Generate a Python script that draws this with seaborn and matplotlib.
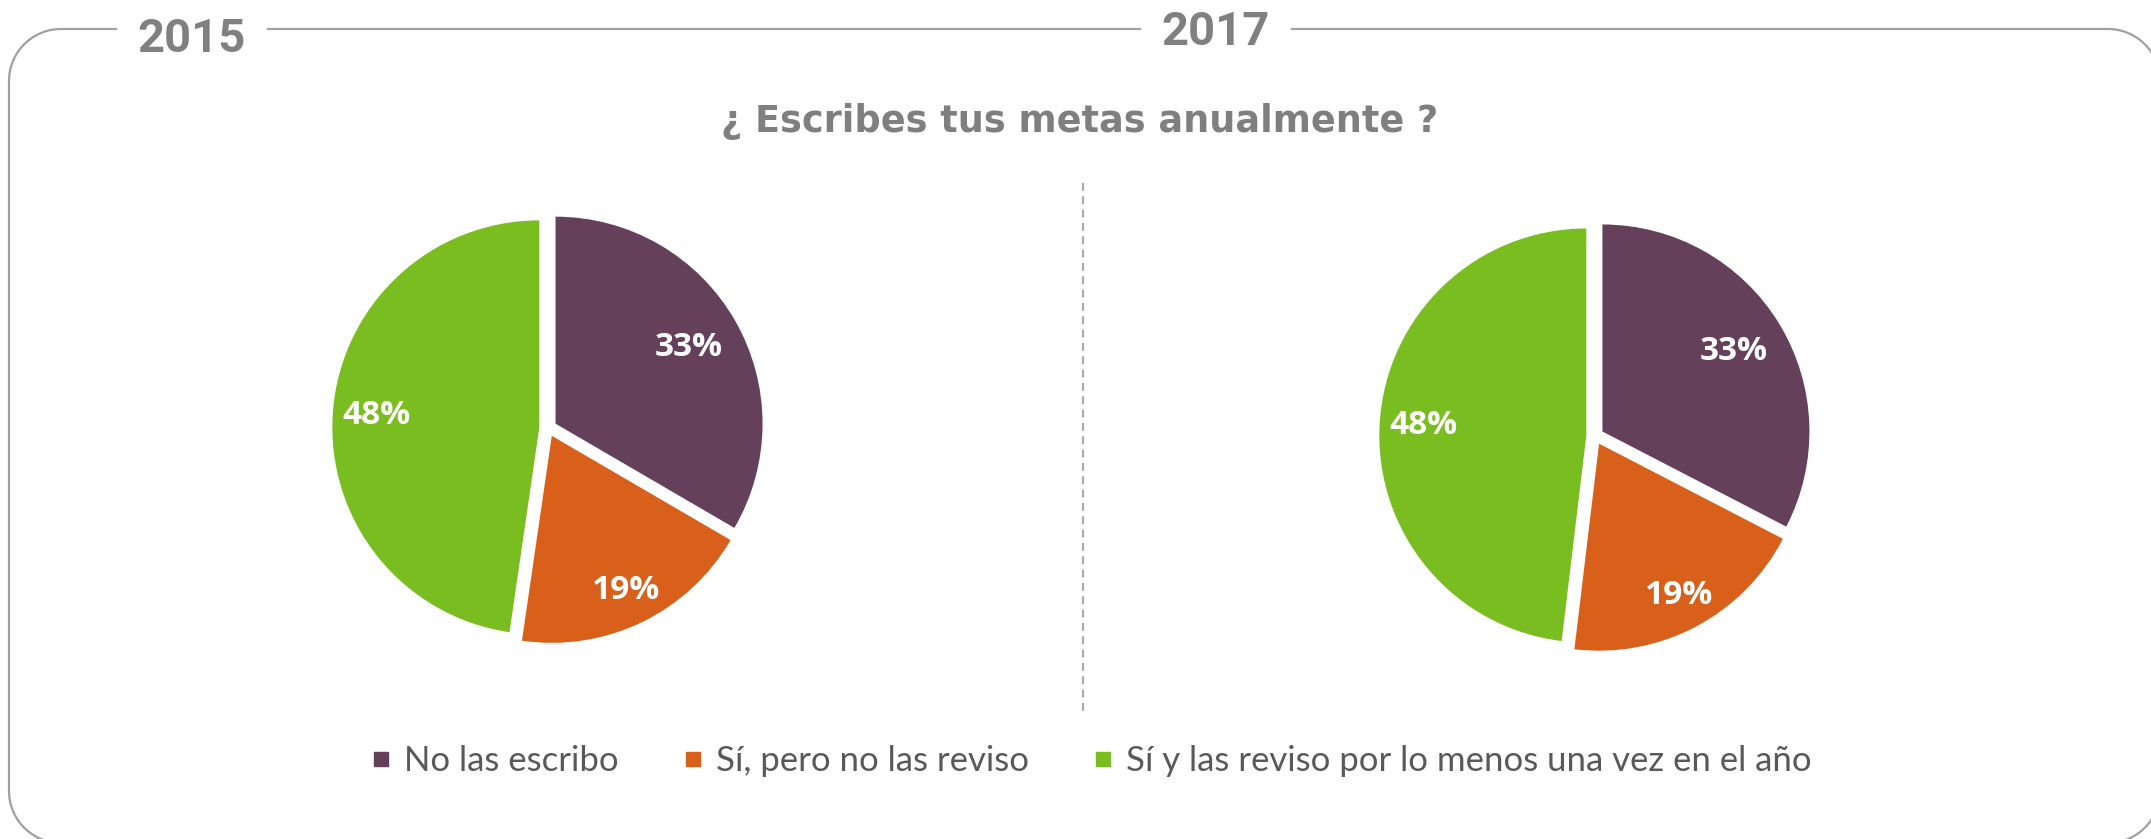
import matplotlib
matplotlib.use("Agg")
import matplotlib.pyplot as plt
from matplotlib.lines import Line2D
import numpy as np
import seaborn as sns

# data
categorias = ["No las escribo", "Sí, pero no las reviso",
              "Sí y las reviso por lo menos una vez en el año"]
valores_2015 = [33.4, 18.9, 47.7]
valores_2017 = [32.6, 19.3, 48.1]
anios = ["2015", "2017"]
titulo = "¿ Escribes tus metas anualmente ?"
colores = ["#65405A", "#D9601A", "#7ABD21"]

sns.set_theme(style="white")
plt.rcParams["font.family"] = ["DejaVu Sans"]

W, H = 2151, 839
fig = plt.figure(figsize=(W / 100, H / 100), dpi=100)
fig.patch.set_facecolor("white")

# background axes in pixel units (y measured from top)
bg = fig.add_axes([0, 0, 1, 1])
bg.set_xlim(0, W)
bg.set_ylim(H, 0)
bg.axis("off")

# rounded frame: corners top-left, top-right, bottom-right, bottom-left
x0, x1, y0, y1, rr = 9, 2160, 29, 843, 52
t = np.linspace(0, np.pi / 2, 30)
tl = (x0 + rr - rr * np.cos(t), y0 + rr - rr * np.sin(t))
tr = (x1 - rr + rr * np.sin(t), y0 + rr - rr * np.cos(t))
br = (x1 - rr + rr * np.cos(t), y1 - rr + rr * np.sin(t))
bl = (x0 + rr - rr * np.sin(t), y1 - rr + rr * np.cos(t))
fx = np.concatenate([tl[0], tr[0], br[0], bl[0], tl[0][:1]])
fy = np.concatenate([tl[1], tr[1], br[1], bl[1], tl[1][:1]])
bg.plot(fx, fy, color="#a0a0a0", lw=1.6, zorder=1, solid_joinstyle="round")

year_font = dict(family="Roboto", weight="bold", size=34, color="#808080",
                 ha="center", va="baseline", zorder=3,
                 bbox=dict(boxstyle="square,pad=0.45", fc="white", ec="none"))
bg.text(192, 52, anios[0], **year_font)
bg.text(1216, 45, anios[1], **year_font)

bg.text(1080, 121, titulo, ha="center", va="center", fontsize=26.4,
        weight="bold", color="#7f7f7f", family="DejaVu Sans")

# dashed separator
bg.plot([1083, 1083], [183, 713], color="#a6a6a6", lw=1.5,
        ls=(0, (3.8, 2.6)), zorder=1)

R_PX = 207
LIM = 1.25
EXPLODE = 0.042
label_dist = [0.74, 0.83, 0.79]


def pie_axes(cx, cy):
    side = 2 * LIM * R_PX
    ax = fig.add_axes([(cx - side / 2) / W, 1 - (cy + side / 2) / H,
                       side / W, side / H])
    ax.axis("off")
    return ax


for vals, (cx, cy) in zip([valores_2015, valores_2017],
                          [(548, 428), (1595, 436)]):
    ax = pie_axes(cx, cy)
    wedges, texts, autotexts = ax.pie(
        vals, colors=colores, startangle=90, counterclock=False,
        explode=[EXPLODE] * 3, radius=1, autopct="%.0f%%",
        wedgeprops=dict(linewidth=0),
        textprops=dict(color="white", weight="bold", fontsize=24,
                       family="Open Sans"))
    for w, tx, d in zip(wedges, autotexts, label_dist):
        ang = np.deg2rad((w.theta1 + w.theta2) / 2)
        tx.set_position(((d + EXPLODE) * np.cos(ang),
                         (d + EXPLODE) * np.sin(ang)))
    ax.set_xlim(-LIM, LIM)
    ax.set_ylim(-LIM, LIM)
    ax.set_aspect("equal")

handles = [Line2D([], [], marker="s", ls="", markersize=10,
                  markerfacecolor=c, markeredgecolor=c) for c in colores]
fig.legend(handles, categorias, loc="center",
           bbox_to_anchor=(1092 / W, 1 - 761 / H), ncol=3, frameon=False,
           handlelength=0.5, handletextpad=0.4, columnspacing=1.9,
           prop=dict(family="Lato", size=25), labelcolor="#595959")

fig.savefig("out.png", dpi=100, facecolor="white")
